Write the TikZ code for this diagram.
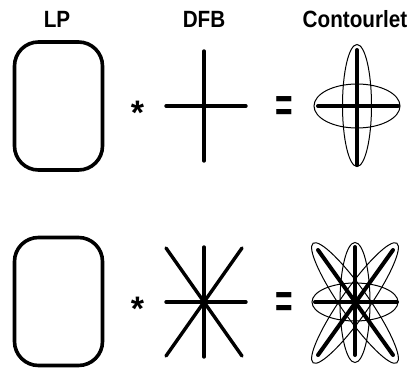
\documentclass[tikz,border=0pt]{standalone}
\usepackage{fontspec}
\setmainfont{Liberation Sans}
\usepackage{tikz}

\begin{document}
\begin{tikzpicture}[
    x=1pt, y=-1pt,
    title/.style={anchor=base, inner sep=0pt, xscale=0.88, font=\fontsize{23.5}{23.5}\selectfont\bfseries},
    lpbox/.style={rectangle, draw=black, line width=3.6pt, rounded corners=24pt, minimum width=88pt, minimum height=128pt, inner sep=0pt},
    starsign/.style={inner sep=0pt, font=\fontsize{34}{34}\selectfont\bfseries},
    eqsign/.style={inner sep=0pt, xscale=0.75, yscale=1.2, font=\fontsize{40}{40}\selectfont\bfseries},
    dfbline/.style={line width=3.4pt, line cap=round},
    ctline/.style={line width=4pt, line cap=round},
    ctell/.style={line width=1pt}
]
\useasboundingbox (0,0) rectangle (412,375);

% Titles
\node[title] (lp) at (57,27.5) {LP};
\node[title] (dfb) at (204,27.5) {DFB};
\node[title] (ct) at (355,27.5) {Contourlet};

% Row 1
\node[lpbox] (lp1) at (58.5,106) {};
\node[starsign] (star1) at (137.5,113) {*};
\draw[dfbline] (166,106) -- (246,106);
\draw[dfbline] (204,51) -- (204,161);
\node[eqsign] (eq1) at (284,109) {=};
\draw[ctell] (357,106) ellipse [x radius=43, y radius=22];
\draw[ctell] (357,105.5) ellipse [x radius=14.5, y radius=61];
\draw[ctline] (318,106) -- (398,106);
\draw[ctline] (357,50) -- (357,165);

% Row 2
\node[lpbox] (lp2) at (58.5,301.5) {};
\node[starsign] (star2) at (137.5,309) {*};
\draw[dfbline] (166,302) -- (246,302);
\draw[dfbline] (204,247) -- (204,357);
\draw[dfbline] (166,248) -- (242,356);
\draw[dfbline] (242,248) -- (166,356);
\node[eqsign] (eq2) at (284,305) {=};
\draw[ctell] (355,302) ellipse [x radius=43, y radius=19];
\draw[ctell] (355,302.5) ellipse [x radius=15, y radius=60];
\draw[ctell, rotate around={55:(355,303)}] (355,303) ellipse [x radius=73, y radius=14];
\draw[ctell, rotate around={-55:(355,303)}] (355,303) ellipse [x radius=73, y radius=14];
\draw[ctline] (315,302) -- (397,302);
\draw[ctline] (355,247) -- (355,355);
\draw[ctline] (318,250) -- (393,355);
\draw[ctline] (393,250) -- (318,355);
\end{tikzpicture}
\end{document}
